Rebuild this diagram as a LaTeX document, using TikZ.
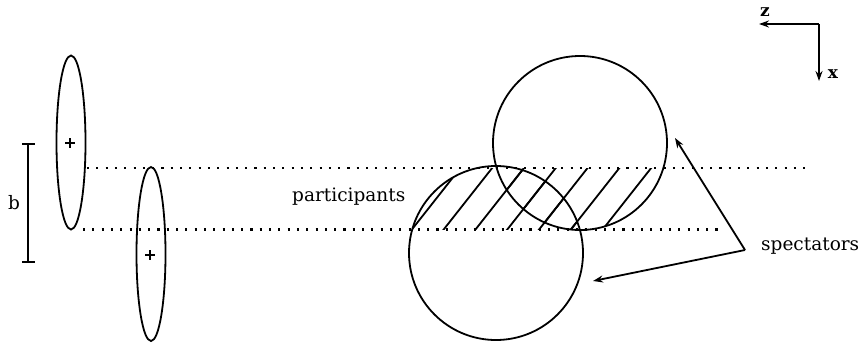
\documentclass[tikz,border=0pt]{standalone}
\usepackage{fontspec}
\setmainfont{DejaVu Serif}
\usetikzlibrary{shapes.geometric,arrows.meta}
\begin{document}
\begin{tikzpicture}[x=1pt,y=-1pt,
  thin line/.style={line width=1.8pt},
  nucleus/.style={draw,thin line,ellipse,inner sep=0pt,minimum width=29pt,minimum height=174pt},
  blob/.style={draw,thin line,circle,inner sep=0pt,minimum size=174pt},
  dotline/.style={line width=2.1pt,dash pattern=on 2.1pt off 7.2pt},
  hatch/.style={line width=1.8pt},
  arr/.style={line width=1.8pt,-{Stealth[length=10pt,width=7pt]}},
  lbl/.style={inner sep=0pt,font=\fontsize{18.5}{22}\selectfont},
  axlbl/.style={lbl,font=\fontsize{17}{20}\selectfont\bfseries}]
\useasboundingbox (0,0) rectangle (866,345);
% nuclei
\node[nucleus] (e1) at (71,142.5) {};
\node[nucleus] (e2) at (151,254) {};
\foreach \p/\q in {70/143,150/255}{
  \draw[line width=2pt] (\p-5,\q) -- (\p+5,\q) (\p,\q-5) -- (\p,\q+5);
}
% impact parameter bar
\coordinate (bt) at (28,144);
\coordinate (bb) at (28,262);
\draw[thin line] (bt) -- (bb);
\draw[thin line] ([xshift=-6pt]bt) -- ([xshift=7pt]bt);
\draw[thin line] ([xshift=-6pt]bb) -- ([xshift=7pt]bb);
\node[lbl] (b) at (14,203) {b};
% dotted lines
\coordinate (d1a) at (87,168);
\coordinate (d1b) at (806,168);
\coordinate (d2a) at (83,229.5);
\coordinate (d2b) at (724,229.5);
\draw[dotline] (d1a) -- (d1b);
\draw[dotline] (d2a) -- (d2b);
% colliding nuclei
\node[blob] (c1) at (580,143) {};
\node[blob] (c2) at (496,253) {};
% hatching of participant zone
\begin{scope}
  \clip (0,168) rectangle (866,229.5);
  \foreach \c in {c1,c2}{
    \begin{scope}
      \clip (\c) circle (87pt);
      \foreach \k in {0,...,7}{
        \draw[hatch] (412+31.8*\k-20,229.5+25.2) -- (412+31.8*\k+66.5,229.5-84.5);
      }
    \end{scope}
  }
\end{scope}
\node[lbl,anchor=west] (part) at (292,197) {participants};
% spectators
\node[lbl,anchor=west] (spec) at (761,246) {spectators};
\coordinate (sp) at (745,250);
\draw[arr] (sp) -- (675,138);
\draw[arr] (sp) -- (593,281);
% axes
\coordinate (o) at (819,24);
\coordinate (zt) at (759,24);
\coordinate (xt) at (819,81);
\draw[arr] (o) -- (zt);
\draw[arr] (o) -- (xt);
\node[axlbl] (z) at (765,12) {z};
\node[axlbl] (x) at (833,74) {x};
\end{tikzpicture}
\end{document}
